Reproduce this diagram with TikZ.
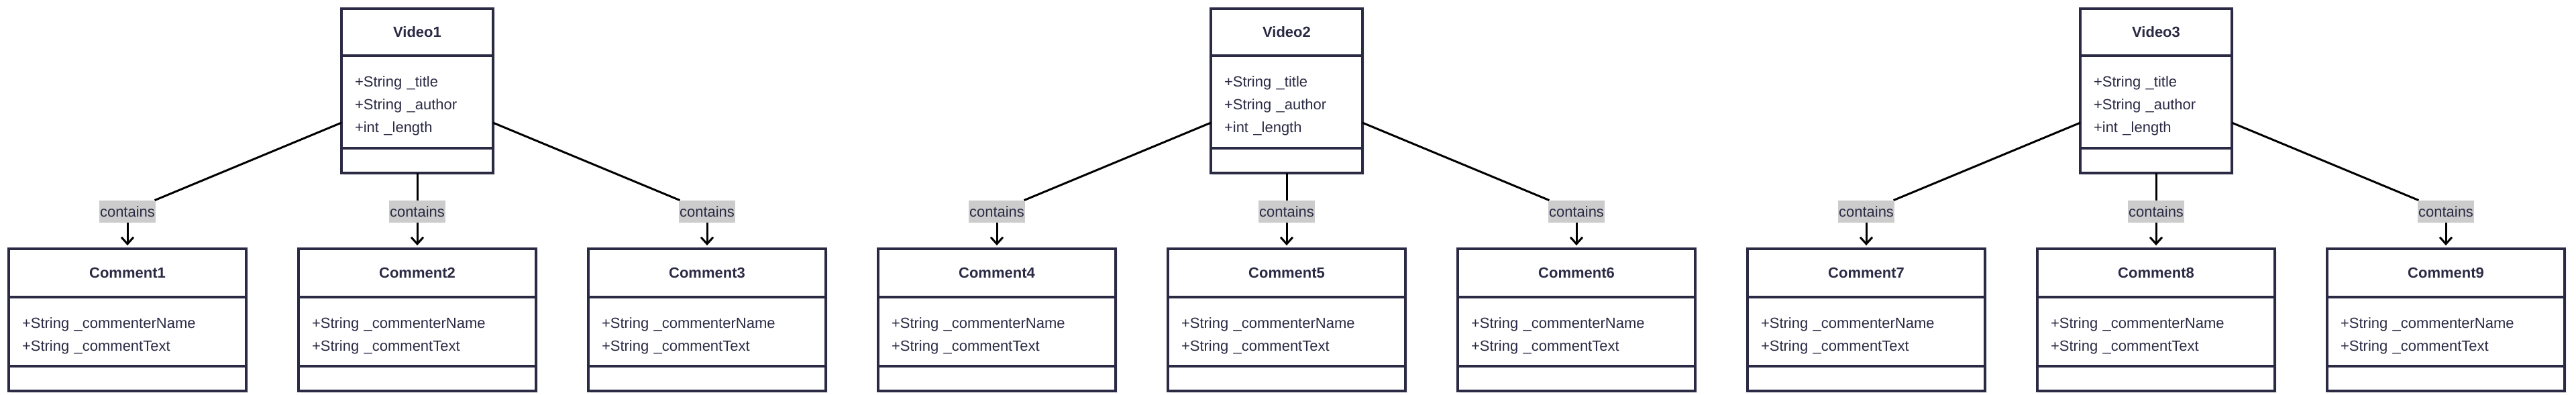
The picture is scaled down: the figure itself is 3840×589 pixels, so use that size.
\documentclass[tikz,border=0pt]{standalone}
\usepackage{fontspec}
\setmainfont{Liberation Sans}
\usetikzlibrary{arrows.meta, positioning, shadows}
\definecolor{ink}{HTML}{2B2A44}
\definecolor{tag}{HTML}{CCCCCC}

\begin{document}
\begin{tikzpicture}[x=0.5pt, y=-0.5pt,
  part/.style={draw=ink, line width=1.7pt, fill=white, outer sep=0pt, inner sep=0pt,
               text=ink, font=\fontsize{11}{17}\selectfont,
               drop shadow={shadow xshift=1.6pt, shadow yshift=-1.6pt, fill=black!12}},
  vhead/.style={part, minimum width=113pt, minimum height=35pt, font=\fontsize{11}{17}\selectfont\bfseries},
  vattr/.style={part, inner xsep=10pt, text width=93pt, minimum height=69pt, align=left,
                execute at begin node={\rule{0pt}{14pt}}},
  vop/.style={part, minimum width=113pt, minimum height=18.5pt},
  chead/.style={part, minimum width=177pt, minimum height=36pt, font=\fontsize{11}{17}\selectfont\bfseries},
  cattr/.style={part, inner xsep=10pt, text width=157pt, minimum height=51.5pt, align=left,
                execute at begin node={\rule{0pt}{14pt}}},
  cop/.style={part, minimum width=177pt, minimum height=18.5pt},
  tagbox/.style={fill=tag, text=ink, inner xsep=0.5pt, inner ysep=0pt, minimum height=16.5pt,
                 font=\fontsize{11}{17}\selectfont},
  wire/.style={draw=black, line width=1.5pt},
  arrow/.style={wire, -{Straight Barb[length=5pt, width=9pt]}, shorten >=2.5pt}
]
\useasboundingbox (0,0) rectangle (3840,589);

% Comment classes with their "contains" labels
\foreach \i in {1,...,9} {
  \pgfmathsetmacro\cx{190+432*(\i-1)}
  \node[chead] (c\i) at (\cx,407) {Comment\i};
  \node[cattr, below=0pt of c\i] (c\i-at) {+String \_commenterName\\+String \_commentText};
  \node[cop, below=0pt of c\i-at] (c\i-op) {};
  \node[tagbox] (k\i) at (\cx,315.5) {contains};
  \draw[arrow] (k\i) -- (c\i);
}

% Video classes, each linked to three comments
\foreach \j in {1,2,3} {
  \pgfmathsetmacro\vx{622+1296*(\j-1)}
  \pgfmathtruncatemacro\ka{3*\j-2}
  \pgfmathtruncatemacro\kb{3*\j-1}
  \pgfmathtruncatemacro\kc{3*\j}
  \node[vhead] (v\j) at (\vx,48) {Video\j};
  \node[vattr, below=0pt of v\j] (v\j-at) {+String \_title\\+String \_author\\+int \_length};
  \node[vop, below=0pt of v\j-at] (v\j-op) {};
  \draw[wire] ([yshift=-15.5pt]v\j-at.west) -- (k\ka);
  \draw[wire] (v\j-op) -- (k\kb);
  \draw[wire] ([yshift=-15.5pt]v\j-at.east) -- (k\kc);
}
\end{tikzpicture}
\end{document}
